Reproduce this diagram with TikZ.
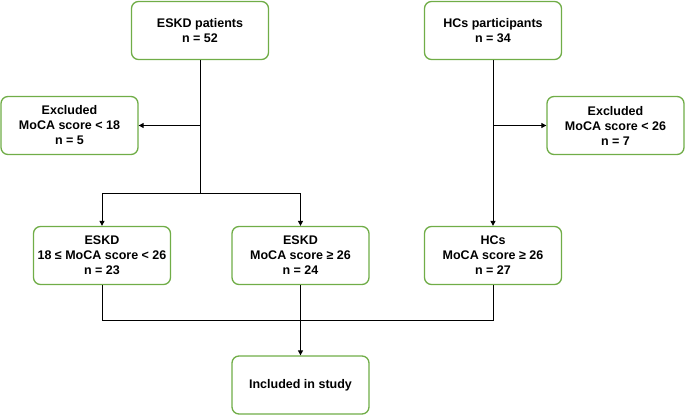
\documentclass[tikz,border=0pt]{standalone}
\usepackage{fontspec}
\setmainfont{Liberation Sans}
\usepackage{tikz}
\usetikzlibrary{arrows.meta,positioning}

\definecolor{boxgreen}{RGB}{112,173,71}
\tikzset{
	box/.style={draw=boxgreen,line width=1.3pt,rounded corners=7pt,fill=white,
		minimum width=137pt,minimum height=58pt,align=center,
		font=\fontsize{12.5}{15}\selectfont\bfseries},
	flow/.style={line width=1pt,-{Triangle[length=5pt,width=5pt]}}
}

\begin{document}
\begin{tikzpicture}[x=1pt,y=-1pt]
	\useasboundingbox (0,0) rectangle (685,420);
	\node[box](eskd) at (200,30.5){ESKD patients\\n = 52};
	\node[box](hcs) at (493,30.5){HCs participants\\n = 34};
	\node[box](exl) at (69.5,125.5){Excluded\\MoCA score < 18\\n = 5};
	\node[box](exr) at (615.5,125.5){Excluded\\MoCA score < 26\\n = 7};
	\node[box](grpa) at (102,255.5){ESKD\\18 ≤ MoCA score < 26\\n = 23};
	\node[box](grpb) at (300.5,255.5){ESKD\\MoCA score ≥ 26\\n = 24};
	\node[box](grpc) at (493,255.5){HCs\\MoCA score ≥ 26\\n = 27};
	\node[box](incl) at (300.5,385){Included in study};
	\coordinate (split) at (0,193);
	\coordinate (merge) at (0,320);
	% ESKD branch
	\draw[line width=1pt](eskd.south) -- (eskd.south |- split);
	\draw[flow](eskd.south |- exl.east) -- (exl.east);
	\draw[line width=1pt](grpa.north |- split) -- (grpb.north |- split);
	\draw[flow](grpa.north |- split) -- (grpa.north);
	\draw[flow](grpb.north |- split) -- (grpb.north);
	% HCs branch
	\draw[flow](hcs.south) -- (grpc.north);
	\draw[flow](hcs.south |- exr.west) -- (exr.west);
	% merge
	\draw[line width=1pt](grpa.south) -- (grpa.south |- merge) -- (grpc.south |- merge) -- (grpc.south);
	\draw[flow](grpb.south) -- (incl.north);
\end{tikzpicture}
\end{document}
